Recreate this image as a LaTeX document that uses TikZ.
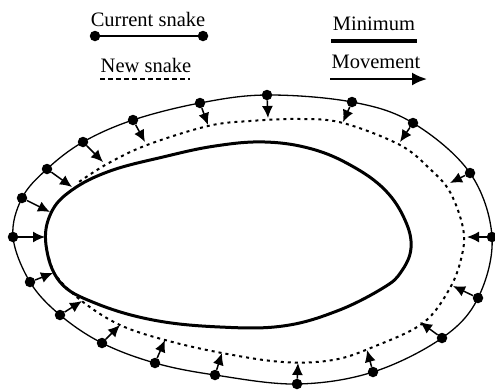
\documentclass[tikz,border=0pt]{standalone}
\usepackage{fontspec}
\setmainfont{Liberation Serif}
\usetikzlibrary{arrows.meta}
\begin{document}
\begin{tikzpicture}[x=1pt,y=-1pt,
  lbl/.style={font=\fontsize{20.5}{24}\selectfont, inner sep=0pt},
  snakedot/.style={circle, fill=black, inner sep=0pt, minimum size=10.5pt},
  move/.style={line width=1.5pt, -{Latex[length=12pt,width=11pt]}},
  outer/.style={line width=1.3pt},
  inner/.style={line width=3pt},
  newsnake/.style={line width=2pt, dash pattern=on 3pt off 4pt}
]
\useasboundingbox (0,0) rectangle (495,389);

% legend
\node[lbl] (cs) at (148,19) {Current snake};
\node[snakedot] (csa) at (95,36) {};
\node[snakedot] (csb) at (203,36) {};
\draw[line width=1.8pt] (csa) -- (csb);
\node[lbl] (ns) at (146,65) {New snake};
\coordinate (nsa) at (100,79);
\coordinate (nsb) at (190,79);
\draw[line width=2.2pt, dash pattern=on 5pt off 3pt] (nsa) -- (nsb);
\node[lbl] (mn) at (374,24) {Minimum};
\coordinate (mna) at (331,41);
\coordinate (mnb) at (417,41);
\draw[line width=3.5pt] (mna) -- (mnb);
\node[lbl] (mv) at (376,62) {Movement};
\coordinate (mva) at (330,79);
\coordinate (mvb) at (427,79);
\draw[line width=2.2pt, -{Latex[length=15pt,width=13pt]}] (mva) -- (mvb);

% minimum (thick) contour
\draw[inner] plot[smooth cycle, tension=0.65] coordinates {
 (46,245) (51,213) (72,190) (110,171) (163,157) (215,146) (265,142)
 (312,149) (352,166) (385,190) (405,220) (411,248) (401,272) (383,288)
 (337,311) (283,326) (220,327) (153,320) (95,303) (60,282)};

% new snake (dotted)
\draw[newsnake] plot[smooth, tension=0.6] coordinates {
 (49,258) (57,277) (83,302) (120,325) (165,340) (222,353) (283,362)
 (333,360) (373,347) (423,323) (450,288) (462,255) (463,228) (450,192)
 (430,169) (400,145) (343,123) (300,119) (250,121) (208,126) (147,145)
 (107,164) (76,184)};

% current snake (outer)
\draw[outer] plot[smooth cycle, tension=0.6] coordinates {
 (13,237) (22,198) (47,169) (83,142) (133,120) (200,103) (267,95)
 (352,102) (413,123) (470,173) (492,237) (478,298) (442,338) (373,372)
 (297,384) (215,375) (155,363) (102,343) (60,315) (30,282)};

\foreach \i/\px/\py/\tx/\ty in {
 1/13/237/45/237, 2/22/198/50/212, 3/47/169/72/187, 4/83/142/103/162,
 5/133/120/145/142, 6/200/103/208/125, 7/267/95/268/118, 8/352/102/343/122,
 9/413/123/400/142, 10/470/173/450/183, 11/492/237/467/237, 12/478/298/453/286,
 13/442/338/420/322, 14/373/372/367/350, 15/297/384/298/363, 16/215/375/222/353,
 17/155/363/165/340, 18/102/343/120/325, 19/60/315/82/301, 20/30/282/53/273} {
  \node[snakedot] (p\i) at (\px,\py) {};
  \coordinate (t\i) at (\tx,\ty);
  \draw[move] (p\i) -- (t\i);
}
\end{tikzpicture}
\end{document}
